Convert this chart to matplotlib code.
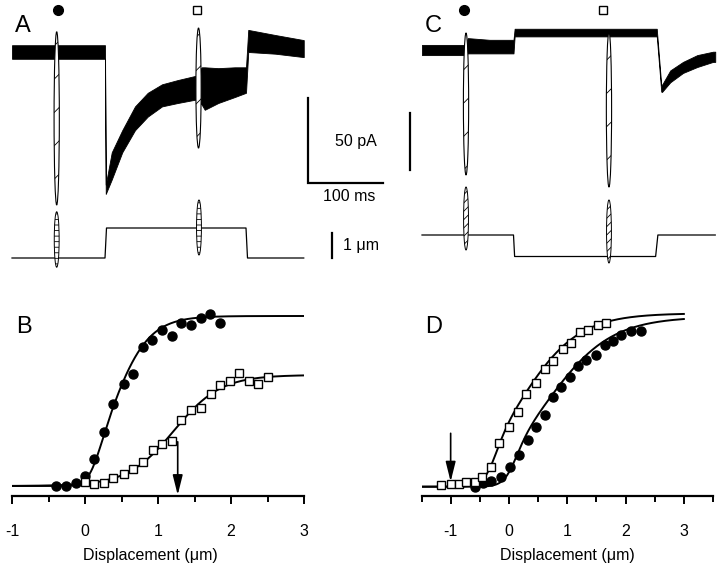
import numpy as np
import matplotlib
matplotlib.use("Agg")
import matplotlib.pyplot as plt
from matplotlib.patches import Ellipse

plt.rcParams["font.family"] = ["Liberation Sans", "DejaVu Sans"]
plt.rcParams["axes.unicode_minus"] = False
plt.rcParams["hatch.linewidth"] = 0.6

# ---- panel A traces (ms, pA / um) ----
a_cur_t = [0, 124, 125, 133, 147, 164, 181, 200, 221, 245, 253, 257, 275, 297, 312, 315, 351, 389]
a_cur_hi = [4, 4, -78, -59, -46, -32, -24, -19, -16.5, -14, -9, -9, -9.5, -9, -9, 13, 10, 7]
a_cur_lo = [-4, -4, -83.5, -75, -59, -46, -38, -32, -30, -28, -31, -34, -30, -26.5, -24, 0, -1, -3]
a_spike_t = [59.6, 248.7]
a_spike_top = [11.9, 14.1]
a_spike_bot = [-90, -56.5]
a_stim_t = [0, 124, 126, 312, 314, 389]
a_stim_um = [0, 0, 1.2, 1.2, 0, 0]
a_loop_t = [59.6, 249.3]
a_loop_top = [1.85, 2.32]
a_loop_bot = [-0.37, 0.12]
a_mark_t = [61.7, 247]

# ---- panel C traces ----
c_cur_t = [0, 58, 61, 90, 122, 123.5, 313, 319, 320, 331, 348, 367, 388, 391]
c_cur_hi = [3, 3, 7, 6, 6, 12.5, 12.5, -20.5, -20.5, -12, -7, -3, -1, -1]
c_cur_lo = [-3, -3, -2, -2, -2, 8, 8, -24.5, -24.7, -19, -13.5, -10, -7, -7]
c_spike_t = [58.7, 249.3]
c_spike_top = [10, 10.6]
c_spike_bot = [-73.5, -80.6]
c_stim_t = [0, 122, 123.5, 311.5, 314.5, 391]
c_stim_um = [0, 0, -0.86, -0.86, 0, 0]
c_loop_t = [58.7, 249.3]
c_loop_top = [1.92, 1.4]
c_loop_bot = [-0.6, -1.12]
c_mark_t = [56, 241.7]

# ---- panel B points ----
b_closed_x = [-0.40, -0.26, -0.13, 0.0, 0.13, 0.26, 0.39, 0.53, 0.66, 0.79, 0.92, 1.06, 1.19, 1.32, 1.45, 1.59, 1.71, 1.85]
b_closed_y = [0.0, 0.0, 0.02, 0.06, 0.16, 0.32, 0.48, 0.60, 0.66, 0.82, 0.86, 0.92, 0.88, 0.96, 0.95, 0.99, 1.01, 0.96]
b_open_x = [0.0, 0.13, 0.26, 0.39, 0.53, 0.66, 0.80, 0.93, 1.06, 1.19, 1.32, 1.45, 1.59, 1.72, 1.85, 1.98, 2.11, 2.24, 2.37, 2.50]
b_open_y = [0.025, 0.012, 0.02, 0.045, 0.069, 0.10, 0.139, 0.212, 0.25, 0.267, 0.39, 0.447, 0.459, 0.541, 0.594, 0.62, 0.663, 0.62, 0.598, 0.643]

# ---- panel D points ----
d_open_x = [-1.17, -1.0, -0.86, -0.73, -0.58, -0.46, -0.31, -0.17, 0.0, 0.15, 0.30, 0.47, 0.61, 0.76, 0.92, 1.06, 1.22, 1.36, 1.53, 1.67]
d_open_y = [0.01, 0.014, 0.014, 0.025, 0.029, 0.055, 0.114, 0.259, 0.353, 0.439, 0.545, 0.612, 0.69, 0.739, 0.812, 0.843, 0.908, 0.922, 0.951, 0.965]
d_closed_x = [-0.59, -0.44, -0.30, -0.14, 0.02, 0.18, 0.32, 0.47, 0.61, 0.75, 0.90, 1.05, 1.19, 1.33, 1.50, 1.65, 1.78, 1.93, 2.10, 2.26]
d_closed_y = [0.0, 0.024, 0.033, 0.059, 0.114, 0.186, 0.275, 0.353, 0.422, 0.529, 0.584, 0.643, 0.71, 0.745, 0.775, 0.833, 0.859, 0.892, 0.918, 0.918]

# Boltzmann fit parameters
b_closed_fit = (1.0, 0.15, 0.10, 0.40, 0.25)
b_open_fit = (0.653, 1.22, 0.32)
d_open_fit = (1.02, -0.25, 0.12, 0.20, 0.50)
d_closed_fit = (1.0, 0.10, 0.12, 0.65, 0.55)
b_arrow = (1.27, 0.26)
d_arrow = (-1.0, 0.314)

SCALE_MS, SCALE_PA, SCALE_UM, C_BAR_PA = 100, 50, 1, 33.7

W, H = 720, 564
MS_PER_PX = 4 / 3
PA_PER_PX = 50 / 85
UM_PER_PX = 1 / 25

fig = plt.figure(figsize=(W / 100, H / 100), dpi=100)


def px_axes(x0, x1, y0, y1, xlim, ylim):
    ax = fig.add_axes([x0 / W, 1 - y1 / H, (x1 - x0) / W, (y1 - y0) / H])
    ax.set_xlim(xlim)
    ax.set_ylim(ylim)
    ax.patch.set_alpha(0)
    return ax


def trace_axes(x0, x1, t0_px, zero_px, per_px):
    ax = px_axes(x0, x1, 0, 290,
                 ((x0 - t0_px) * MS_PER_PX, (x1 - t0_px) * MS_PER_PX),
                 ((zero_px - 290) * per_px, zero_px * per_px))
    ax.axis("off")
    return ax


def loops(ax, ts, tops, bots, width, hatch, lw=0.8):
    for t, top, bot in zip(ts, tops, bots):
        ax.add_patch(Ellipse((t, (top + bot) / 2), width, top - bot, facecolor="white",
                             edgecolor="black", lw=lw, hatch=hatch, zorder=5))


def trace_panel(x0, x1, t0_px, zi, zd, cur, stim, marks, stim_hatch):
    axi = trace_axes(x0, x1, t0_px, zi, PA_PER_PX)
    axd = trace_axes(x0, x1, t0_px, zd, UM_PER_PX)
    t, hi, lo = cur
    axi.fill_between(t, lo, hi, color="black", lw=0.6)
    loops(axi, *stim[2], 7, "/")
    axd.plot(stim[0], stim[1], color="black", lw=0.9)
    loops(axd, *stim[3], 6.5, stim_hatch, lw=0.7)
    top = axi.get_ylim()[1] - 10 * PA_PER_PX
    axi.plot(marks[0], top, "o", ms=7, color="black", clip_on=False)
    axi.plot(marks[1], top, "s", ms=5.5, mfc="white", mec="black", mew=1, clip_on=False)
    return axi, axd


axa, axa_s = trace_panel(0, 400, 12, 52, 258,
                         (a_cur_t, a_cur_hi, a_cur_lo),
                         (a_stim_t, a_stim_um, (a_spike_t, a_spike_top, a_spike_bot),
                          (a_loop_t, a_loop_top, a_loop_bot)), a_mark_t, "---")
axc, axc_s = trace_panel(400, 720, 422, 50, 235,
                         (c_cur_t, c_cur_hi, c_cur_lo),
                         (c_stim_t, c_stim_um, (c_spike_t, c_spike_top, c_spike_bot),
                          (c_loop_t, c_loop_top, c_loop_bot)), c_mark_t, "////")

# scale bars
bx, by = (308 - 12) * MS_PER_PX, -(183 - 52) * PA_PER_PX
axa.plot([bx, bx, bx + SCALE_MS], [by + SCALE_PA, by, by], color="black", lw=1.6,
         solid_joinstyle="miter")
ux = (332 - 12) * MS_PER_PX
axa_s.plot([ux, ux], [0, SCALE_UM], color="black", lw=1.6)
cx, cy = (409.5 - 422) * MS_PER_PX, -(170 - 50) * PA_PER_PX
axc.plot([cx, cx], [cy, cy + C_BAR_PA], color="black", lw=1.6)

fs = 11.5
fig.text(335 / W, 1 - 141.7 / H, "50 pA", fontsize=fs, va="center")
fig.text(323 / W, 1 - 196.7 / H, "100 ms", fontsize=fs, va="center")
fig.text(343 / W, 1 - 245.7 / H, "1 \u03bcm", fontsize=fs, va="center")


def boltz1(x, a, x0, s):
    return a / (1 + np.exp((x0 - x) / s))


def boltz2(x, a, x1, s1, x2, s2):
    return a / (1 + np.exp((x2 - x) / s2) * (1 + np.exp((x1 - x) / s1)))


def fit_panel(ax, xmin, xmax, fitx, label_x):
    for s in ("left", "right", "top"):
        ax.spines[s].set_visible(False)
    ax.spines["bottom"].set_linewidth(1.6)
    ax.set_yticks([])
    ax.set_xticks(range(-1, 4))
    ax.set_xticks(np.arange(xmin, xmax + 0.01, 0.5), minor=True)
    ax.tick_params(axis="x", which="major", length=6, width=1.4, labelsize=fs, pad=14)
    ax.tick_params(axis="x", which="minor", length=4.5, width=1.4)
    ax.set_xlabel("Displacement (\u03bcm)", fontsize=fs)
    ax.xaxis.set_label_coords(label_x, -0.265)
    return np.linspace(fitx[0], fitx[1], 400)


marker_kw = dict(linestyle="none", clip_on=False, zorder=4)

axb = px_axes(12, 304, 300, 496, (-1, 3), ((486 - 496) / 170, (486 - 300) / 170))
xs = fit_panel(axb, -1, 3, (-1, 3), 0.473)
axb.plot(xs, boltz2(xs, *b_closed_fit), color="black", lw=1.4)
axb.plot(xs, boltz1(xs, *b_open_fit), color="black", lw=1.4)
axb.plot(b_closed_x, b_closed_y, marker="o", ms=6.5, color="black", **marker_kw)
axb.plot(b_open_x, b_open_y, marker="s", ms=5.5, mfc="white", mec="black", mew=1, **marker_kw)
axb.annotate("", xy=(b_arrow[0], -0.053), xytext=b_arrow,
             arrowprops=dict(arrowstyle="-|>,head_length=1.2,head_width=0.3", color="black",
                             lw=1.2, shrinkA=0, shrinkB=0))

axd = px_axes(421.5, 713, 300, 496, (-1.5, 3.5), ((486.7 - 496) / 170, (486.7 - 300) / 170))
xs = fit_panel(axd, -1.5, 3.5, (-1.5, 3), 0.5)
axd.plot(xs, boltz2(xs, *d_open_fit), color="black", lw=1.4)
axd.plot(xs, boltz2(xs, *d_closed_fit), color="black", lw=1.4)
axd.plot(d_closed_x, d_closed_y, marker="o", ms=6.5, color="black", **marker_kw)
axd.plot(d_open_x, d_open_y, marker="s", ms=5.5, mfc="white", mec="black", mew=1, **marker_kw)
axd.annotate("", xy=(d_arrow[0], 0.03), xytext=d_arrow,
             arrowprops=dict(arrowstyle="-|>,head_length=1.2,head_width=0.3", color="black",
                             lw=1.2, shrinkA=0, shrinkB=0))

for letter, x, y in [("A", 15, 32), ("C", 425, 32), ("B", 16, 333), ("D", 425, 333)]:
    fig.text(x / W, 1 - y / H, letter, fontsize=17, va="baseline")

fig.savefig("out.png", dpi=100)
